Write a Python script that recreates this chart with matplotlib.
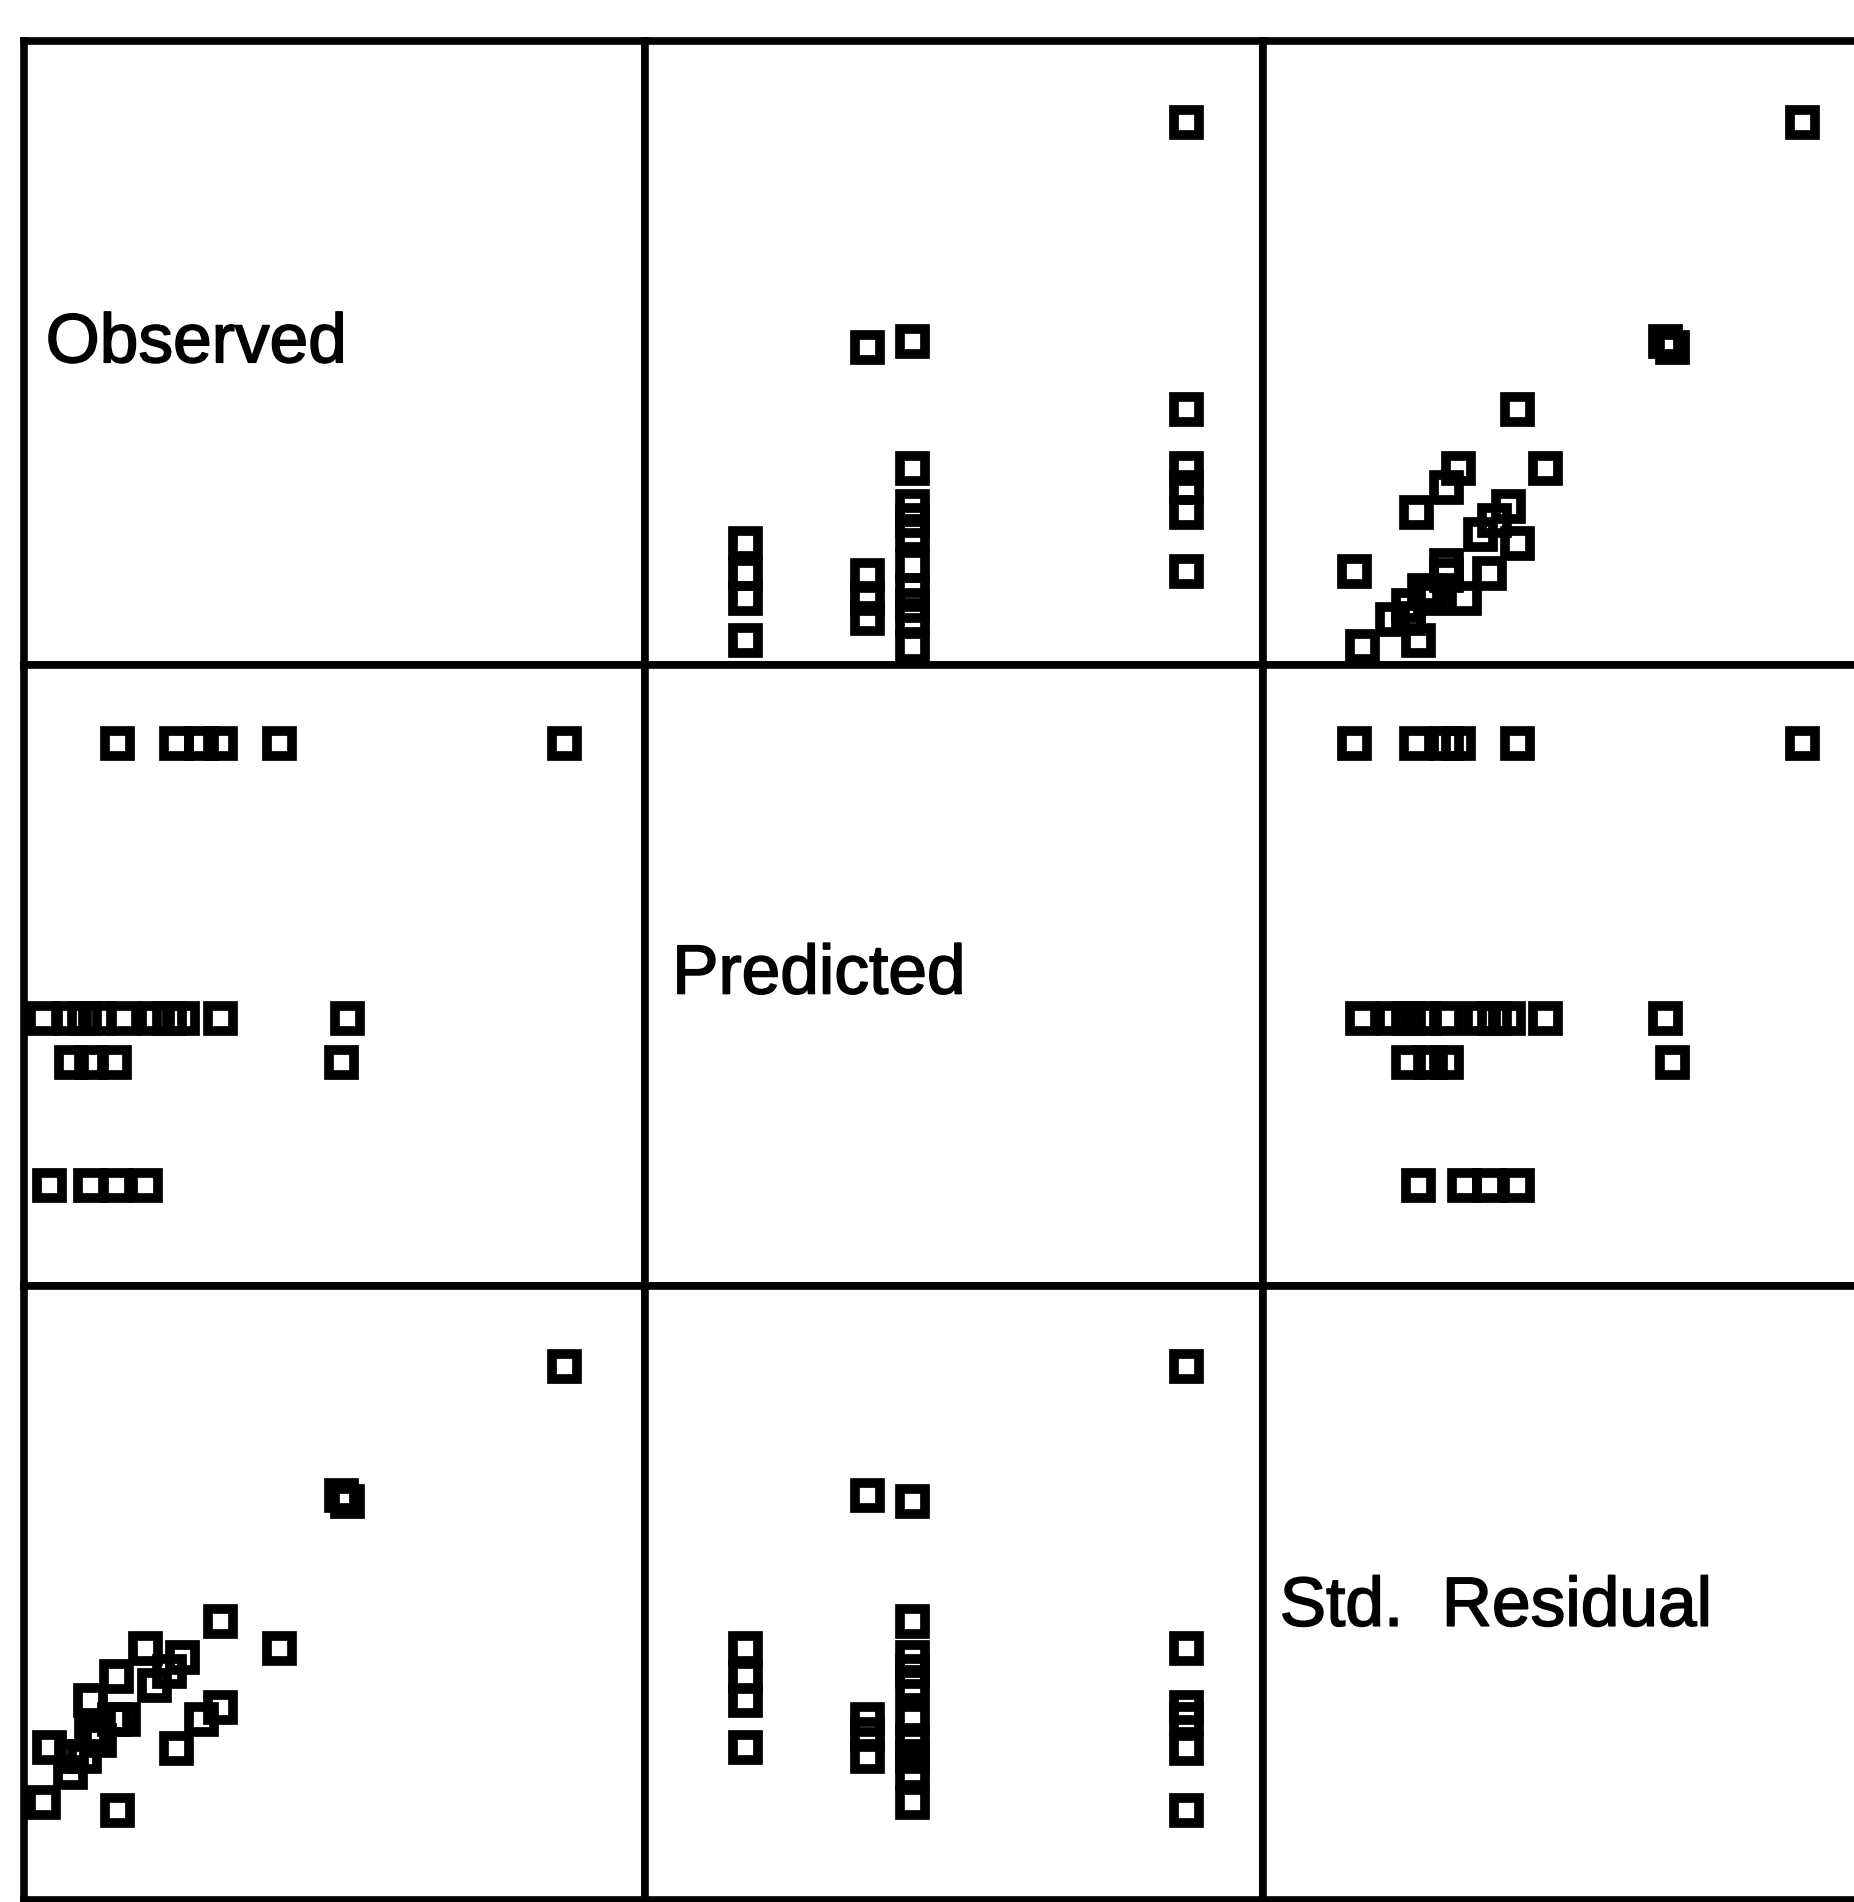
import matplotlib
matplotlib.use("Agg")
import matplotlib.pyplot as plt
import matplotlib.patheffects as pe

# Variables of the scatterplot matrix (diagonal labels)
variables = ["Observed", "Predicted", "Std.  Residual"]

# Values (relative units, 0-100 of each panel's range)
observed = [87, 41, 31.5, 28.5, 24.5, 15,
            4, 10.7, 14.8, 19.5,
            7.5, 10.8, 14.5, 51,
            3, 7.4, 9.6, 12, 16, 21, 23.3, 25.5, 31.6, 52]
predicted = [87.5, 87.5, 87.5, 87.5, 87.5, 87.5,
             16.2, 16.2, 16.2, 16.2,
             36, 36, 36, 36,
             43.2, 43.2, 43.2, 43.2, 43.2, 43.2, 43.2, 43.2, 43.2, 43.2]
residual = [87, 41, 31.5, 29.5, 24.7, 14.7,
            25, 32.5, 36.5, 41,
            23.5, 27, 29.5, 66,
            16, 20.8, 23.5, 26, 29.5, 35, 37.3, 39.5, 45.5, 65]

data = [observed, predicted, residual]

W, H = 1854, 1902
fig = plt.figure(figsize=(W / 100, H / 100), dpi=100)
fig.patch.set_facecolor("white")

col_edges = [24, 645, 1263, 1882]
row_edges = [41, 665, 1286, 1900]
label_pos = [(0.035, 0.514), (0.044, 0.50), (0.027, 0.476)]

for r in range(3):
    for c in range(3):
        x0, x1 = col_edges[c], col_edges[c + 1]
        y0, y1 = row_edges[r], row_edges[r + 1]
        ax = fig.add_axes([x0 / W, 1 - y1 / H, (x1 - x0) / W, (y1 - y0) / H])
        ax.set_xlim(0, 100)
        ax.set_ylim(0, 100)
        ax.set_xticks([])
        ax.set_yticks([])
        for s in ax.spines.values():
            s.set_linewidth(5.5)
            s.set_color("black")
        if r == c:
            lx, ly = label_pos[r]
            ax.text(lx, ly, variables[r], transform=ax.transAxes,
                    ha="left", va="center", fontsize=50,
                    family=["Liberation Sans", "DejaVu Sans"], color="black",
                    path_effects=[pe.withStroke(linewidth=1.2, foreground="black")])
        else:
            ax.plot(data[c], data[r], linestyle="none", marker="s",
                    markersize=18, markerfacecolor="none",
                    markeredgecolor="black", markeredgewidth=7, clip_on=True)

fig.savefig("out.png", dpi=100, facecolor="white")
